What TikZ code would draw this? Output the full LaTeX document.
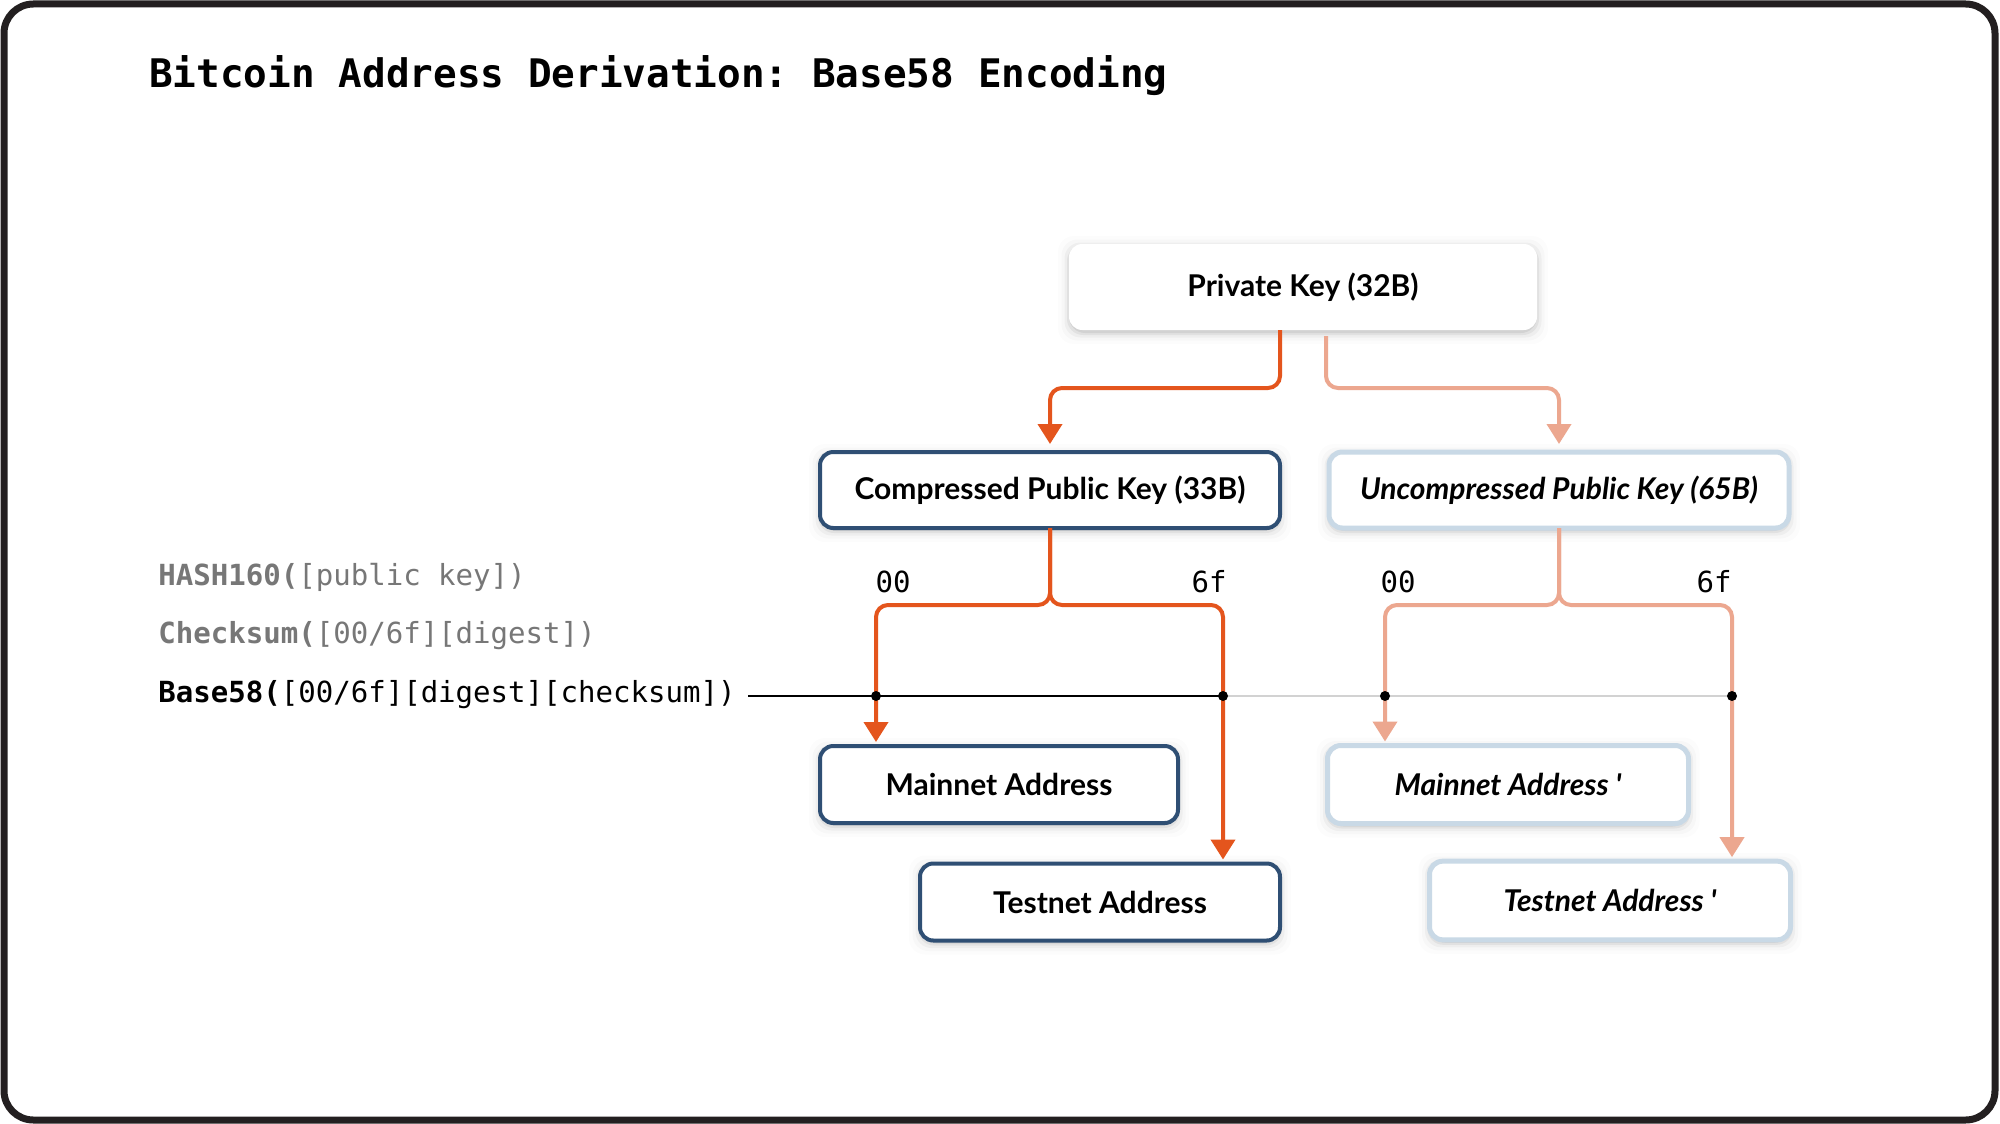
\documentclass[tikz,border=0pt]{standalone}
\usepackage{fontspec}
\setmainfont{Lato}
\newfontfamily\latoraw{Lato}
\newfontfamily\monofam{DejaVu Sans Mono}
\usetikzlibrary{arrows.meta,calc,backgrounds}
\frenchspacing
\definecolor{orng}{HTML}{E4551D}
\definecolor{salmon}{HTML}{ECA78F}
\definecolor{dkblue}{HTML}{2F4F74}
\definecolor{ltblue}{HTML}{C9D9E6}
\definecolor{frm}{HTML}{231F20}
\definecolor{gtxt}{HTML}{777777}
\definecolor{gline}{HTML}{D2D2D2}
\tikzset{
  box/.style={rounded corners=10pt, fill=white, inner sep=0pt, outer sep=0pt, align=center,
    font=\fontsize{22.5pt}{27pt}\selectfont\bfseries},
  darkbox/.style={box, draw=dkblue, line width=3pt},
  lightbox/.style={box, draw=ltblue, line width=3.75pt, font=\latoraw\fontsize{22.5pt}{27pt}\selectfont\bfseries\itshape},
  plainbox/.style={box, draw=none},
  oarrow/.style={draw=orng, line width=3pt, rounded corners=9pt, -{Triangle[width=18pt,length=15pt]}},
  sarrow/.style={draw=salmon, line width=3pt, rounded corners=9pt, -{Triangle[width=18pt,length=15pt]}},
  hexlbl/.style={font=\monofam\fontsize{21.8pt}{26pt}\selectfont, inner sep=0pt},
  formula/.style={font=\monofam\fontsize{21.8pt}{26pt}\selectfont, anchor=base west, inner sep=0pt},
  dotmark/.style={circle, fill=black, inner sep=0pt, minimum size=7.5pt},
  shadowlayer/.style={black, rounded corners=12pt}
}
\newcommand\softshade[1]{%
  \foreach \s/\o in {0/0.06,2/0.05,4.5/0.035,7.5/0.02,11/0.012}{%
    \fill[shadowlayer, opacity=\o] ($(#1.south west)+(-\s,\s+3)$) rectangle ($(#1.north east)+(\s,-\s+3)$);
  }}
\begin{document}
\begin{tikzpicture}[x=0.75pt, y=-0.75pt]
\useasboundingbox (0,0) rectangle (2000,1124);

% title
\node[anchor=base west, inner sep=0pt, font=\monofam\bfseries\fontsize{29.5pt}{35pt}\selectfont] (title) at (149,88) {Bitcoin Address Derivation: Base58 Encoding};

% boxes
\node[plainbox, minimum width=351pt, minimum height=64.5pt] (P) at (1303,287) {Private Key (32B)};
\node[darkbox, minimum width=345pt, minimum height=57pt] (C) at (1050,490) {Compressed Public Key (33B)};
\node[lightbox, minimum width=345pt, minimum height=57pt] (U) at (1559,490) {Uncompressed Public Key (65B)};
\node[darkbox, minimum width=268.5pt, minimum height=57.75pt] (M) at (999,784.5) {Mainnet Address};
\node[darkbox, minimum width=270pt, minimum height=57.75pt] (T) at (1100,902) {Testnet Address};
\node[lightbox, minimum width=270.75pt, minimum height=58.5pt] (M2) at (1508,784.5) {Mainnet Address '};
\node[lightbox, minimum width=270.75pt, minimum height=59pt] (T2) at (1610,900.5) {Testnet Address '};

% formulas
\node[formula, text=gtxt] (h160) at (158,585) {\textbf{HASH160(}[public key])};
\node[formula, text=gtxt] (chk) at (158,643) {\textbf{Checksum(}[00/6f][digest])};
\node[formula, text=black] (b58) at (158,702) {\textbf{Base58(}[00/6f][digest][checksum])};

% hex labels
\node[hexlbl] (la) at (893,582) {00};
\node[hexlbl] (lb) at (1209,582) {6f};
\node[hexlbl] (lc) at (1398,582) {00};
\node[hexlbl] (ld) at (1714,582) {6f};

% junction points on the Base58 line
\coordinate (p1) at (876,696);
\coordinate (p2) at (1223,696);
\coordinate (p3) at (1385,696);
\coordinate (p4) at (1732,696);

% Base58 line
\draw[gline, line width=1.6pt] (p2) -- (p4);
\draw[black, line width=1.6pt] ($(b58.east |- p1)+(12,0)$) -- (p2);

% arrows from private key
\draw[oarrow] ($(P.south)+(-23,0)$) -- ++(0,58) -| ($(C.north)+(0,-8)$);
\draw[sarrow] ($(P.south)+(23,6)$) -- ++(0,52) -| ($(U.north)+(0,-8)$);

% compressed branches
\draw[oarrow] (C.south) -- ++(0,77) -| ($(M.north)+(-123,-4)$);
\draw[oarrow] (C.south) -- ++(0,77) -| ($(T.north)+(123,-4)$);
% uncompressed branches
\draw[sarrow] (U.south) -- ++(0,77) -| ($(M2.north)+(-123,-4)$);
\draw[sarrow] (U.south) -- ++(0,77) -| ($(T2.north)+(122,-4)$);

% dots
\node[dotmark] (d1) at (p1) {};
\node[dotmark] (d2) at (p2) {};
\node[dotmark] (d3) at (p3) {};
\node[dotmark] (d4) at (p4) {};

% background and shadows
\begin{scope}[on background layer]
  \fill[white] (0,0) rectangle (2000,1124);
  \softshade{P}
  \softshade{C}
  \softshade{U}
  \softshade{M}
  \softshade{T}
  \softshade{M2}
  \softshade{T2}
\end{scope}

% frame
\draw[frm, line width=5.25pt, rounded corners=22pt] (4,4) rectangle (1995,1120);
\end{tikzpicture}
\end{document}
